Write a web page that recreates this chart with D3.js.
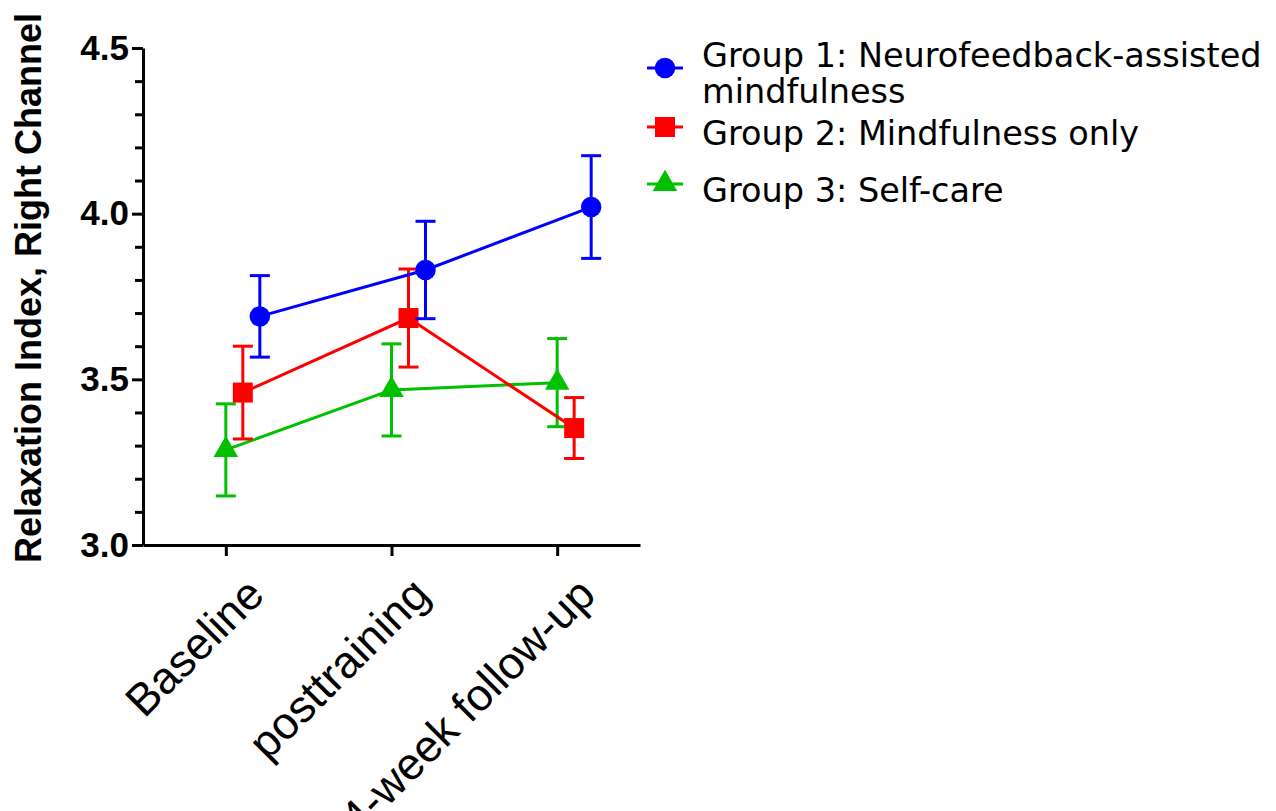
<!DOCTYPE html>
<html>
<head>
<meta charset="utf-8">
<script src="https://cdn.jsdelivr.net/npm/d3@7"></script>
<style>
  body { margin: 0; background: #fff; }
  .axis path, .axis line { stroke: #000; stroke-width: 3px; }
  .axis text { fill: #000; }
</style>
</head>
<body>
<div id="chart"></div>
<script>
// time points on the x axis
const timepoints = ["Baseline", "posttraining", "4-week follow-up"];

// group means and standard errors
const group1Mean = [3.69, 3.83, 4.02];
const group1Err = [0.123, 0.147, 0.155];
const group2Mean = [3.46, 3.685, 3.353];
const group2Err = [0.14, 0.148, 0.092];
const group3Mean = [3.287, 3.468, 3.49];
const group3Err = [0.139, 0.139, 0.133];

const groupLabels = [
  ["Group 1: Neurofeedback-assisted", "mindfulness"],
  ["Group 2: Mindfulness only"],
  ["Group 3: Self-care"]
];
const groupColors = ["#0000ff", "#ff0000", "#00c000"];
const groupSymbols = [d3.symbolCircle, d3.symbolSquare, d3.symbolTriangle];

const yMajorTicks = [3.0, 3.5, 4.0, 4.5];
const yMinorTicks = [3.1, 3.2, 3.3, 3.4, 3.6, 3.7, 3.8, 3.9, 4.1, 4.2, 4.3, 4.4];

const groups = [
  { key: "g1", mean: group1Mean, err: group1Err },
  { key: "g2", mean: group2Mean, err: group2Err },
  { key: "g3", mean: group3Mean, err: group3Err }
].map((g, i) => ({
  ...g,
  label: groupLabels[i],
  color: groupColors[i],
  symbol: groupSymbols[i],
  points: timepoints.map((t, j) => ({ t, v: g.mean[j], e: g.err[j] }))
}));

const width = 1276, height = 811;
const svg = d3.select("#chart").append("svg")
  .attr("width", width)
  .attr("height", height);

const x = d3.scalePoint()
  .domain(timepoints)
  .range([143, 640])
  .padding(0.5);

// small horizontal offset per group so the error bars don't overlap
const dodge = d3.scalePoint()
  .domain(["g3", "g2", "g1"])
  .range([0, 34]);

const y = d3.scaleLinear()
  .domain([3, 4.5])
  .range([545, 48]);

// minor ticks
svg.append("g")
  .attr("class", "axis")
  .attr("transform", "translate(143,0)")
  .call(d3.axisLeft(y).tickValues(yMinorTicks).tickSize(8).tickFormat(""))
  .call(g => g.select(".domain").remove());

// y axis
svg.append("g")
  .attr("class", "axis y-axis")
  .attr("transform", "translate(143,0)")
  .call(d3.axisLeft(y).tickValues(yMajorTicks).tickSize(11).tickSizeOuter(0)
    .tickPadding(3).tickFormat(d3.format(".1f")))
  .call(g => g.selectAll("text")
    .style("font", "bold 35px 'Liberation Sans', Arial, sans-serif"));

// x axis
svg.append("g")
  .attr("class", "axis x-axis")
  .attr("transform", "translate(0,545)")
  .call(d3.axisBottom(x).tickSize(11).tickSizeOuter(0))
  .call(g => g.selectAll("text")
    .style("font", "45px 'Liberation Sans', Arial, sans-serif")
    .attr("text-anchor", "end")
    .attr("dy", null)
    .attr("y", null)
    .attr("transform", "translate(40,52) rotate(-45)"));

// y axis title
svg.append("text")
  .attr("transform", "translate(41,288) rotate(-90)")
  .attr("text-anchor", "middle")
  .style("font", "bold 36px 'Liberation Sans', Arial, sans-serif")
  .text("Relaxation Index, Right Channel");

const line = d3.line()
  .x(d => d.x)
  .y(d => y(d.v));

const series = svg.append("g")
  .selectAll("g.series")
  .data(groups.slice().reverse())
  .join("g")
  .attr("class", d => `series ${d.key}`)
  .each(function(g) {
    const sel = d3.select(this);
    const pts = g.points.map(p => ({ ...p, x: x(p.t) + dodge(g.key) }));
    const capHalf = 10;

    sel.append("path")
      .datum(pts)
      .attr("d", line)
      .attr("fill", "none")
      .attr("stroke", g.color)
      .attr("stroke-width", 3);

    const bars = sel.selectAll("g.err")
      .data(pts)
      .join("g")
      .attr("class", "err")
      .attr("stroke", g.color)
      .attr("stroke-width", 3);
    bars.append("line")
      .attr("x1", d => d.x).attr("x2", d => d.x)
      .attr("y1", d => y(d.v + d.e)).attr("y2", d => y(d.v - d.e));
    bars.append("line")
      .attr("x1", d => d.x - capHalf).attr("x2", d => d.x + capHalf)
      .attr("y1", d => y(d.v + d.e)).attr("y2", d => y(d.v + d.e));
    bars.append("line")
      .attr("x1", d => d.x - capHalf).attr("x2", d => d.x + capHalf)
      .attr("y1", d => y(d.v - d.e)).attr("y2", d => y(d.v - d.e));

    sel.selectAll("path.marker")
      .data(pts)
      .join("path")
      .attr("class", "marker")
      .attr("d", d3.symbol().type(g.symbol).size(g.key === "g3" ? 260 : g.key === "g2" ? 400 : 330))
      .attr("transform", d => `translate(${d.x},${y(d.v)})`)
      .attr("fill", g.color);
  });

// legend
const legendRows = [68, 127, 184];
const legendBaselines = [67, 145, 202];
const legend = svg.append("g")
  .selectAll("g.legend")
  .data(groups)
  .join("g")
  .attr("class", "legend");

legend.append("line")
  .attr("x1", 647).attr("x2", 683)
  .attr("y1", (d, i) => legendRows[i]).attr("y2", (d, i) => legendRows[i])
  .attr("stroke", d => d.color)
  .attr("stroke-width", 3);

legend.append("path")
  .attr("d", d => d3.symbol().type(d.symbol).size(d.key === "g3" ? 260 : d.key === "g2" ? 400 : 330)())
  .attr("transform", (d, i) => `translate(665,${legendRows[i]})`)
  .attr("fill", d => d.color);

legend.append("text")
  .attr("x", 702)
  .attr("y", (d, i) => legendBaselines[i])
  .style("font", "33.5px 'DejaVu Sans', sans-serif")
  .selectAll("tspan")
  .data(d => d.label)
  .join("tspan")
  .attr("x", 702)
  .attr("dy", (d, i) => i === 0 ? 0 : 36)
  .text(d => d);
</script>
</body>
</html>
